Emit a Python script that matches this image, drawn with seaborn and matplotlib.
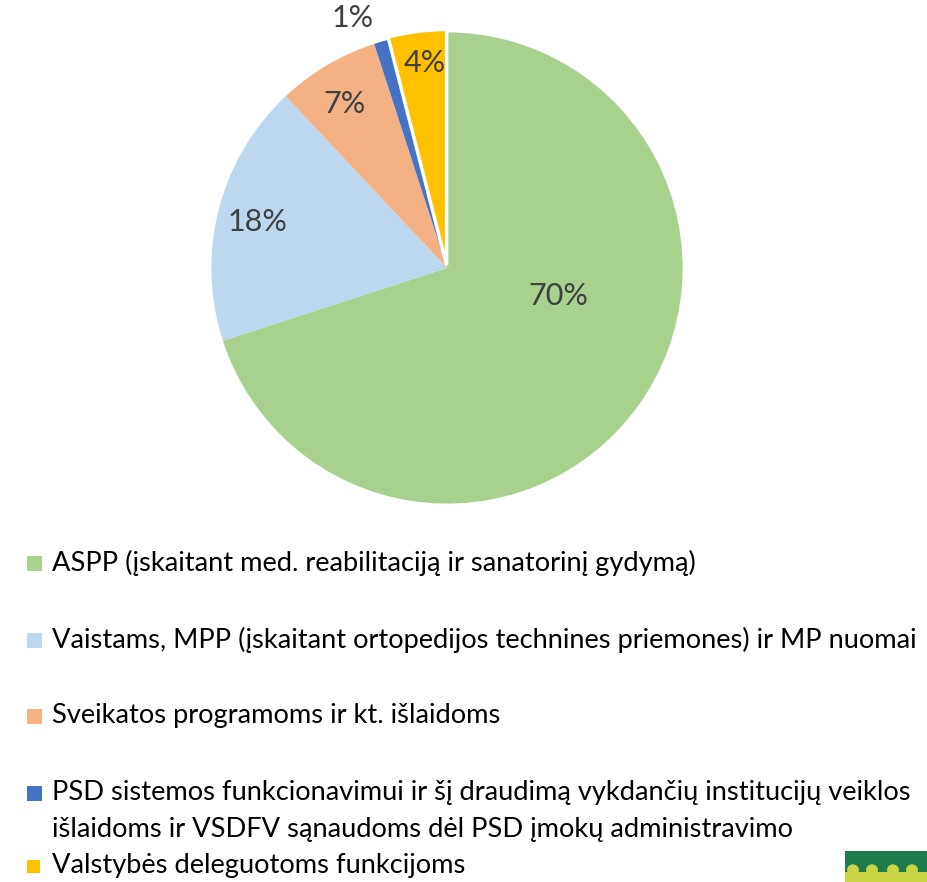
import matplotlib
matplotlib.use("Agg")
import matplotlib.pyplot as plt
from matplotlib.patches import Rectangle, Circle
import seaborn as sns

sns.set_theme(style="white")
plt.rcParams['font.family'] = ['Lato', 'DejaVu Sans']

categories = [
    "ASPP (įskaitant med. reabilitaciją ir sanatorinį gydymą)",
    "Vaistams, MPP (įskaitant ortopedijos technines priemones) ir MP nuomai",
    "Sveikatos programoms ir kt. išlaidoms",
    "PSD sistemos funkcionavimui ir šį draudimą vykdančių institucijų veiklos\nišlaidoms ir VSDFV sąnaudoms dėl PSD įmokų administravimo",
    "Valstybės deleguotoms funkcijoms",
]
values = [70, 18, 7, 1, 4]
pct_labels = ["70%", "18%", "7%", "1%", "4%"]
colors = ["#A9D18E", "#BDD7EE", "#F4B183", "#4472C4", "#FFC000"]

# layout (label placement in pie units, legend rows in figure px)
label_pos = [(0.466, -0.118), (-0.798, 0.193), (-0.429, 0.689), (-0.395, 1.05), (-0.092, 0.861)]
legend_y = [563, 640, 716, 811, 866]

W, H = 928, 882
fig = plt.figure(figsize=(W / 100, H / 100), dpi=100)
cx, cy, R = 447, 268, 238
ax = fig.add_axes([(cx - R) / W, (H - cy - R) / H, 2 * R / W, 2 * R / H])

explode = [0, 0, 0, 0, 0.012]
wedges, _ = ax.pie(values, colors=colors, startangle=90, counterclock=False,
                   radius=0.99, explode=explode,
                   wedgeprops=dict(linewidth=0, edgecolor="white"))
wedges[4].set_edgecolor("white")
wedges[4].set_linewidth(2.5)
ax.set_xlim(-1, 1)
ax.set_ylim(-1, 1)
ax.set_aspect("equal")
ax.axis("off")

txt_color = "#404040"
for (x, y), t in zip(label_pos, pct_labels):
    ax.text(x, y, t, ha="center", va="center", fontsize=22, color=txt_color)

# legend
x_sq, x_txt = 27, 52
for i, (lab, col) in enumerate(zip(categories, colors)):
    yc = legend_y[i]
    sq_y = 793 if "\n" in lab else yc
    s = 15 if i < 4 else 13
    fig.patches.append(Rectangle((x_sq / W, 1 - (sq_y + s / 2) / H), s / W, s / H,
                                 transform=fig.transFigure, color=col, lw=0))
    fig.text(x_txt / W, 1 - yc / H, lab, ha="left", va="center", fontsize=19.6,
             color="#000000", linespacing=1.6)

# small logo at bottom-right corner
lx, ly = 845, 851
fig.patches.append(Rectangle((lx / W, 0), (W - lx) / W, (H - ly) / H,
                             transform=fig.transFigure, color="#1E7B4B", lw=0))
for px in [853, 872, 893, 912]:
    fig.patches.append(Circle((px / W, 1 - 870 / H), 6 / W, transform=fig.transFigure,
                              color="#C9D444", lw=0))
fig.patches.append(Rectangle((lx / W, 0), (W - lx) / W, 10 / H,
                             transform=fig.transFigure, color="#C9D444", lw=0))

fig.savefig("out.png", dpi=100, facecolor="white")
